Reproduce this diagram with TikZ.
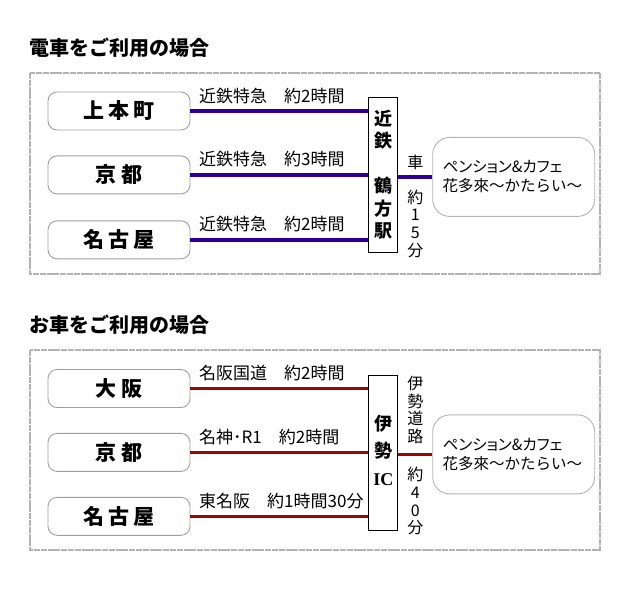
\documentclass[tikz,border=0pt]{standalone}
\usepackage{fontspec}
\setmainfont{Noto Sans CJK JP}
\newfontfamily\paltfont[RawFeature=+palt]{Noto Sans CJK JP}
\newfontfamily\icfont{Liberation Serif}
\usetikzlibrary{positioning}

\definecolor{kinpurple}{RGB}{48,0,150}
\definecolor{roadred}{RGB}{155,5,5}
\newcommand\sgap{\hspace{4.5pt}}

\tikzset{
  frame/.style={draw=gray!60, line width=2pt, dash pattern=on 6pt off 0.8pt},
  heading/.style={anchor=west, inner sep=0pt, font=\fontsize{20}{20}\selectfont\bfseries},
  station/.style={draw=gray!75, line width=0.9pt, rounded corners=9pt, minimum width=142pt, minimum height=38pt, font=\fontsize{21}{21}\selectfont\bfseries},
  hubbox/.style={draw, line width=0.8pt, minimum width=29pt, minimum height=155pt, inner sep=0pt, align=center},
  dest/.style={draw=gray!60, line width=0.9pt, rounded corners=17pt, minimum width=162pt, minimum height=79pt, text width=142pt, align=left, font=\fontsize{15.5}{19}\selectfont},
  route/.style={anchor=base west, xshift=7pt, yshift=9pt, inner sep=0pt, font=\fontsize{17}{17}\selectfont},
  vlabel/.style={align=center, inner sep=0pt, font=\fontsize{16}{17.7}\selectfont},
  train/.style={draw=kinpurple, line width=3.5pt},
  road/.style={draw=roadred, line width=3.5pt}
}

\begin{document}
\begin{tikzpicture}[x=1pt, y=-1pt]
\useasboundingbox (0,0) rectangle (640,600);

% by train
\node[heading] (title1) at (29,48) {電車をご利用の場合};
\draw[frame] (30,73) rectangle (600,274);
\node[station] (ue) at (119,111) {上\sgap 本\sgap 町};
\node[station, below=25pt of ue] (kyo) {京\sgap 都};
\node[station, below=26pt of kyo] (nago) {名\sgap 古\sgap 屋};
\node[hubbox, right=178pt of kyo, font=\fontsize{18}{22.5}\selectfont\bfseries] (hub) {近\\鉄\\[22.5pt]鶴\\方\\駅};
\node[dest, right=34pt of hub, yshift=-2pt] (pension) {{\paltfont ペンション\&カフェ}\\花多來～かたらい～};
\draw[train] (ue.east) -- (ue.east -| hub.west) node[route, pos=0] {近鉄特急　約2時間};
\draw[train] (kyo.east) -- (kyo.east -| hub.west) node[route, pos=0] {近鉄特急　約3時間};
\draw[train] (nago.east) -- (nago.east -| hub.west) node[route, pos=0] {近鉄特急　約2時間};
\draw[train] (pension.west -| hub.east) -- (pension.west)
  node[vlabel, midway, above=5pt] {車}
  node[vlabel, midway, below=11pt] {約\\1\\5\\分};

% by car
\node[heading] (title2) at (29,325) {お車をご利用の場合};
\draw[frame] (30,350) rectangle (600,550);
\node[station] (osaka) at (119,388.5) {大\sgap 阪};
\node[station, below=25pt of osaka] (kyo2) {京\sgap 都};
\node[station, below=25pt of kyo2] (nago2) {名\sgap 古\sgap 屋};
\node[hubbox, right=178pt of kyo2, font=\fontsize{18}{27.5}\selectfont\bfseries] (ic)
  {\raisebox{6pt}{\begin{tabular}{@{}c@{}}伊\\勢\\{\icfont IC}\end{tabular}}};
\node[dest, right=34pt of ic, yshift=-2pt] (pension2) {{\paltfont ペンション\&カフェ}\\花多來～かたらい～};
\draw[road] (osaka.east) -- (osaka.east -| ic.west) node[route, pos=0] {名阪国道　約2時間};
\draw[road] (kyo2.east) -- (kyo2.east -| ic.west) node[route, pos=0] {名神･R1　約2時間};
\draw[road] (nago2.east) -- (nago2.east -| ic.west) node[route, pos=0] {東名阪　約1時間30分};
\draw[road] (pension2.west -| ic.east) -- (pension2.west)
  node[vlabel, midway, above=9pt] {伊\\勢\\道\\路}
  node[vlabel, midway, below=11pt] {約\\4\\0\\分};
\end{tikzpicture}
\end{document}
